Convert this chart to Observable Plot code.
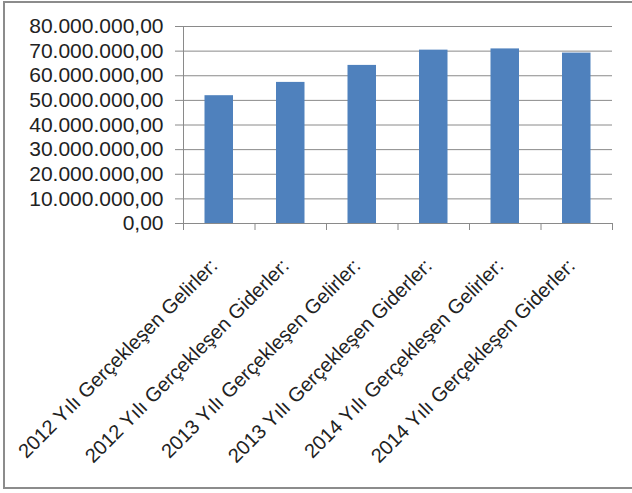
<!DOCTYPE html>
<html>
<head>
<meta charset="utf-8">
<script src="https://cdn.jsdelivr.net/npm/d3@7"></script>
<script src="https://cdn.jsdelivr.net/npm/@observablehq/plot@0.6"></script>
<style>
  html, body { margin: 0; padding: 0; background: #fff; overflow: hidden; }
  #wrap { position: relative; width: 632px; height: 493px; }
  #frame { position: absolute; left: 3px; top: 1px; width: 700px; height: 484px; border: 2px solid #8c8c8c; pointer-events: none; }
  svg { font-family: "Liberation Sans", Arial, sans-serif; }
</style>
</head>
<body>
<div id="wrap"><div id="frame"></div></div>
<script>
const categories = [
  "2012 Yılı Gerçekleşen Gelirler:",
  "2012 Yılı Gerçekleşen Giderler:",
  "2013 Yılı Gerçekleşen Gelirler:",
  "2013 Yılı Gerçekleşen Giderler:",
  "2014 Yılı Gerçekleşen Gelirler:",
  "2014 Yılı Gerçekleşen Giderler:"
];
const values = [51900000, 57300000, 64200000, 70400000, 70900000, 69200000];
const yTicks = [0, 10000000, 20000000, 30000000, 40000000, 50000000, 60000000, 70000000, 80000000];

const data = categories.map((c, i) => ({i, category: c, value: values[i]}));
const trFormat = d3.formatLocale({decimal: ",", thousands: ".", grouping: [3], currency: ["", ""]}).format(",.2f");
const boundaries = d3.range(categories.length + 1);
const centers = categories.map((c, i) => i + 0.5);

const chart = Plot.plot({
  width: 632,
  height: 493,
  marginLeft: 183,
  marginRight: 20,
  marginTop: 26,
  marginBottom: 270,
  x: {type: "linear", domain: [0, categories.length], axis: null, label: null},
  y: {domain: [0, 80000000], axis: null, label: null},
  style: {fontFamily: "Liberation Sans, Arial, sans-serif", color: "#222", background: "transparent"},
  marks: [
    Plot.gridY(yTicks, {stroke: "#8a8a8a", strokeOpacity: 1}),
    Plot.rectY(data, {x: "i", interval: 1, y: "value", fill: "#4f81bd", insetLeft: 21.5, insetRight: 21.5}),
    Plot.ruleY([0], {stroke: "#8a8a8a"}),
    Plot.ruleX([0], {y1: 0, y2: 80000000, stroke: "#8a8a8a"}),
    Plot.axisY({ticks: yTicks, tickFormat: trFormat, tickSize: 8, tickPadding: 12, fontSize: 21, stroke: "#8a8a8a", strokeOpacity: 1, fill: "#222", label: null}),
    Plot.axisX({ticks: boundaries, tickFormat: () => "", tickSize: 7, stroke: "#8a8a8a", strokeOpacity: 1, label: null}),
    Plot.axisX({ticks: centers, tickFormat: d => categories[Math.floor(d)], tickSize: 0, tickPadding: 39, dx: -5, tickRotate: -45, fontSize: 20, fill: "#222", label: null})
  ]
});
document.getElementById("wrap").prepend(chart);
chart.style.position = "absolute";
chart.style.left = "0";
chart.style.top = "0";
</script>
</body>
</html>
